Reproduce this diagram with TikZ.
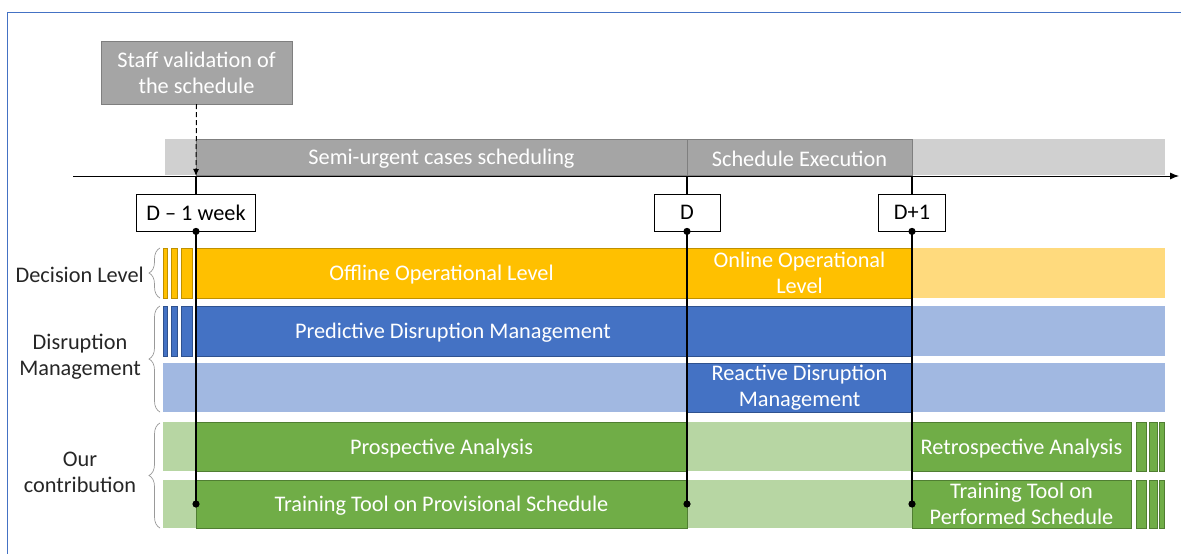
\documentclass[tikz,border=0pt]{standalone}
\usepackage{fontspec}
\setmainfont{Carlito}
\usetikzlibrary{arrows.meta,decorations.pathreplacing}

\definecolor{frameblue}{RGB}{68,114,196}
\definecolor{headgray}{RGB}{165,165,165}
\definecolor{headline}{RGB}{127,127,127}
\definecolor{palegray}{RGB}{208,208,208}
\definecolor{offyellow}{RGB}{255,192,0}
\definecolor{offyellowline}{RGB}{191,144,0}
\definecolor{paleyellow}{RGB}{255,218,125}
\definecolor{predblue}{RGB}{68,114,196}
\definecolor{predblueline}{RGB}{47,82,143}
\definecolor{paleblue}{RGB}{161,184,225}
\definecolor{ourgreen}{RGB}{112,173,71}
\definecolor{ourgreenline}{RGB}{80,126,50}
\definecolor{palegreen}{RGB}{183,214,163}
\definecolor{labeltext}{RGB}{38,38,38}

\begin{document}
\begin{tikzpicture}[x=1pt,y=-1pt,
  every node/.style={font=\fontsize{22.3}{26}\selectfont},
  lighttext/.style={text=white,align=center,inner sep=0pt},
  sidetext/.style={text=labeltext,align=center,inner sep=0pt},
  datebox/.style={draw=black,fill=white,line width=0.8pt,minimum height=37pt,inner sep=0pt},
  grp/.style={draw=gray!80,line width=0.7pt,decorate,decoration={brace,amplitude=11pt}},
  tick/.style={line width=1.3pt},
  dot/.style={fill=black}]

\useasboundingbox (0,0) rectangle (1181,554);

\draw[frameblue,line width=1pt] (7.5,554) -- (7.5,12.5) -- (1181,12.5);

% header band
\path[fill=palegray] (165,139) rectangle (1165,175);
\path[draw=headline,fill=headgray] (196,139) rectangle (687,175);
\path[draw=headline,fill=headgray] (687,139) rectangle (912,175);
\node[lighttext] (semi) at (441.5,158.5) {Semi-urgent cases scheduling};
\node[lighttext] (exec) at (799.5,158.5) {Schedule Execution};

\node[draw=headline,fill=headgray,minimum width=191pt,minimum height=63pt,lighttext]
  (staff) at (196.5,72.5) {Staff validation of\\the schedule};

% rows
\path[fill=paleyellow] (912,248) rectangle (1165,298);
\path[draw=offyellowline,fill=offyellow] (196,248) rectangle (912,298);
\path[fill=paleblue] (912,306) rectangle (1165,356);
\path[draw=predblueline,fill=predblue] (196,306) rectangle (912,356);
\path[fill=paleblue] (163,363) rectangle (1165,412);
\path[draw=predblueline,fill=predblue] (687,363) rectangle (912,412);
\path[fill=palegreen] (163,422) rectangle (912,471);
\path[draw=ourgreenline,fill=ourgreen] (196,422) rectangle (687,471);
\path[draw=ourgreenline,fill=ourgreen] (912,422) rectangle (1131.5,471);
\path[fill=palegreen] (163,480) rectangle (912,528);
\path[draw=ourgreenline,fill=ourgreen] (196,480) rectangle (687,528);
\path[draw=ourgreenline,fill=ourgreen] (912,480) rectangle (1131.5,528);

\foreach \a/\b in {163/167.5,171/177.5,181/192}{
  \path[draw=offyellowline,fill=offyellow] (\a,248) rectangle (\b,298);
  \path[draw=predblueline,fill=predblue] (\a,306) rectangle (\b,356);
}
\foreach \a/\b in {1136/1146.5,1149/1157,1159.5/1164.5}{
  \path[draw=ourgreenline,fill=ourgreen] (\a,422) rectangle (\b,471);
  \path[draw=ourgreenline,fill=ourgreen] (\a,480) rectangle (\b,528);
}

\node[lighttext] (offline) at (441.5,274.5) {Offline Operational Level};
\node[lighttext] (online) at (799.5,273) {Online Operational\\Level};
\node[lighttext] (pred) at (453,332.5) {Predictive Disruption Management};
\node[lighttext] (react) at (799.5,388) {Reactive Disruption\\Management};
\node[lighttext] (prosp) at (441.5,448.5) {Prospective Analysis};
\node[lighttext] (retro) at (1021.5,448.5) {Retrospective Analysis};
\node[lighttext] (provis) at (441.5,505.5) {Training Tool on Provisional Schedule};
\node[lighttext] (perf) at (1021.5,504) {Training Tool on\\Performed Schedule};

% time axis and dates
\coordinate (t0) at (73,176);
\coordinate (t1) at (1179,176);
\draw[line width=0.9pt,-{Latex[length=9pt,width=7pt]}] (t0) -- (t1);

\node[datebox,minimum width=119pt] (wk) at (196,212.5) {D – 1 week};
\node[datebox,minimum width=66pt] (d) at (687,212.5) {D};
\node[datebox,minimum width=67pt] (dp) at (912,212.5) {D+1};

\coordinate (wkax) at (196,176);
\coordinate (dax) at (687,176);
\coordinate (dpax) at (912,176);
\coordinate (wkend) at (196,504);
\coordinate (dend) at (687,504);
\coordinate (dpend) at (912,504);

\draw[tick] (wkax) -- (wk.north);
\draw[tick] (dax) -- (d.north);
\draw[tick] (dpax) -- (dp.north);
\draw[tick] (wk.south) -- (wkend);
\draw[tick] (d.south) -- (dend);
\draw[tick] (dp.south) -- (dpend);
\foreach \p in {wk.south,d.south,dp.south,wkend,dend,dpend}
  \path[dot] (\p) circle (3.6pt);

\draw[line width=1pt,dash pattern=on 5pt off 3pt,-{Latex[length=7pt,width=6pt]}]
  (staff.south) -- (wkax);

% left groups
\draw[grp] (160,298) -- (160,248);
\draw[grp] (160,412) -- (160,306);
\draw[grp] (160,528) -- (160,423);
\node[sidetext,anchor=east] (declvl) at (144,274.5) {Decision Level};
\node[sidetext] (disr) at (80,357) {Disruption\\Management};
\node[sidetext] (ours) at (80,472) {Our\\contribution};

\end{tikzpicture}
\end{document}
